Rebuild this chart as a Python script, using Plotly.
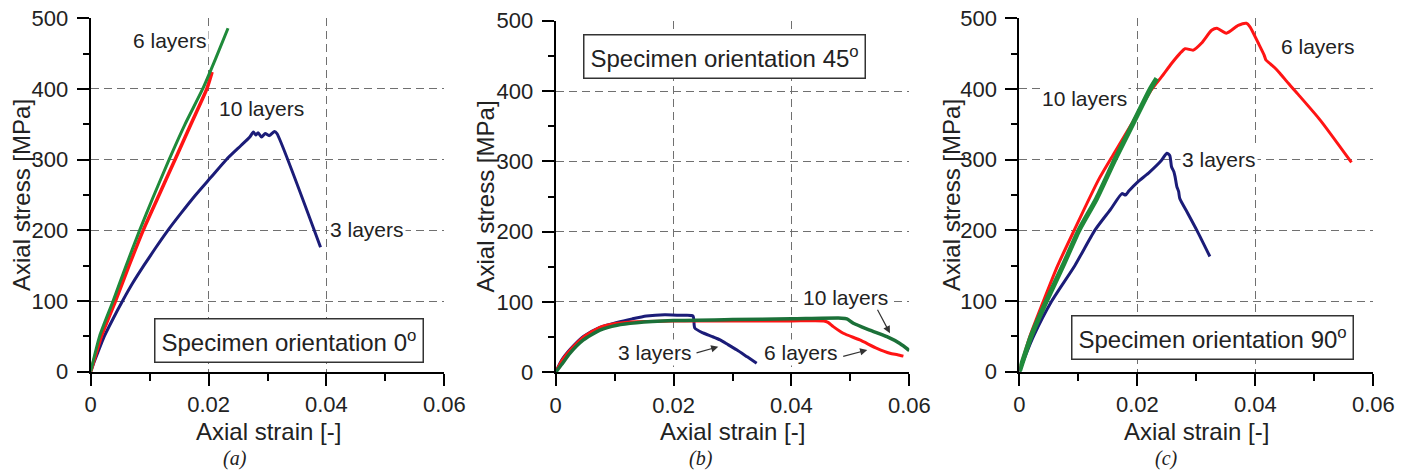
import plotly.graph_objects as go

# ---------------- data ----------------
x_ticks = [0, 0.02, 0.04, 0.06]
x_ticktext = ["0", "0.02", "0.04", "0.06"]
y_ticks = [0, 100, 200, 300, 400, 500]
y_ticktext = ["0", "100", "200", "300", "400", "500"]

# (a) orientation 0 deg
a_blue_strain = [0, 0.0005, 0.0012, 0.0023, 0.0038, 0.0054, 0.0071, 0.0090, 0.0110, 0.0131, 0.0154,
                 0.0178, 0.0204, 0.0230, 0.0255, 0.0270, 0.0276, 0.0280, 0.0284, 0.0290, 0.0296,
                 0.0303, 0.0312, 0.0316, 0.0390]
a_blue_stress = [0, 12, 27, 50, 75, 100, 125, 150, 175, 200, 225, 250, 275, 300, 320, 332, 339, 335,
                 338, 332, 337, 334, 340, 337, 176]
a_green_strain = [0, 0.0015, 0.0038, 0.0060, 0.0083, 0.0105, 0.0133, 0.0160, 0.0190, 0.0212, 0.0233]
a_green_stress = [0, 50, 100, 150, 200, 245, 300, 350, 400, 443, 486]
a_red_strain = [0, 0.0018, 0.0042, 0.0065, 0.0089, 0.0116, 0.0143, 0.0170, 0.0197, 0.0206]
a_red_stress = [0, 50, 100, 150, 200, 250, 300, 350, 400, 424]

# (b) orientation 45 deg
b_blue_strain = [0, 0.0010, 0.0025, 0.0047, 0.0075, 0.0104, 0.0130, 0.0154, 0.0185, 0.0216, 0.0233,
                 0.0236, 0.0250, 0.0265, 0.0279, 0.0293, 0.0307, 0.0325, 0.0341]
b_blue_stress = [0, 17, 33, 51, 64, 71, 76, 80, 82, 81, 80, 63, 56, 51, 46, 39, 32, 22, 13]
b_red_strain = [0, 0.0010, 0.0025, 0.0047, 0.0075, 0.0104, 0.0137, 0.0200, 0.0300, 0.0400, 0.0455,
                0.0462, 0.0471, 0.0488, 0.0516, 0.0545, 0.0567, 0.0580, 0.0590]
b_red_stress = [0, 16, 32, 50, 64, 69.7, 72, 73, 73, 73, 73, 71, 65, 55.5, 46, 34, 27, 25, 23]
b_green_strain = [0, 0.0010, 0.0024, 0.0047, 0.0075, 0.0104, 0.0137, 0.0200, 0.0300, 0.0400, 0.0485,
                  0.0494, 0.0505, 0.0533, 0.0562, 0.0584, 0.0600]
b_green_stress = [0, 11, 27, 46, 60, 67, 70.5, 73.5, 75, 76, 77, 76, 69.7, 60, 50.6, 41, 31]

# (c) orientation 90 deg
c_blue_strain = [0, 0.0010, 0.0024, 0.0055, 0.0094, 0.0128, 0.0155, 0.0174, 0.0180, 0.0186, 0.0200,
                 0.0219, 0.0240, 0.0250, 0.0255, 0.0258, 0.0262, 0.0264, 0.0267, 0.0270, 0.0272,
                 0.0285, 0.0301, 0.0323]
c_blue_stress = [0, 22, 50, 100, 150, 200, 230, 252, 250, 256, 268, 281, 298, 309, 306, 290, 283, 276,
                 262, 255, 245, 225, 200, 163]
c_red_strain = [0, 0.0018, 0.0041, 0.0065, 0.0093, 0.0134, 0.0160, 0.0190, 0.0224, 0.0241, 0.0258,
                0.0272, 0.0281, 0.0295, 0.0309, 0.0326, 0.0335, 0.0351, 0.0371, 0.0385, 0.0391,
                0.0405, 0.0415, 0.0418, 0.0425, 0.0433, 0.0442, 0.0456, 0.0473, 0.0510, 0.0563]
c_red_stress = [0, 50, 100, 150, 200, 271, 308, 350, 399, 417, 436, 450, 457, 455, 465, 483, 486, 479,
                490, 493, 488, 465, 448, 441, 436, 430, 422, 408, 392, 356, 296]
c_green_strain = [0, 0.0020, 0.0046, 0.0074, 0.0101, 0.0131, 0.0162, 0.0192, 0.0222, 0.0233]
c_green_stress = [0, 50, 100, 150, 200, 245, 300, 350, 400, 415]

# ---------------- styling ----------------
W, H = 1413, 473
BLUE = "#1b1c78"
RED = "#ff1414"
GREEN = "#1f8a3a"
GREEN_B = "#1b7038"
FONT = "Liberation Sans, Arial, sans-serif"
TXT = "#222222"

fig = go.Figure()

series = [
    ("x", "y", a_blue_strain, a_blue_stress, BLUE, 3),
    ("x", "y", a_red_strain, a_red_stress, RED, 3.5),
    ("x", "y", a_green_strain, a_green_stress, GREEN, 3),
    ("x2", "y2", b_blue_strain, b_blue_stress, BLUE, 3),
    ("x2", "y2", b_red_strain, b_red_stress, RED, 3),
    ("x2", "y2", b_green_strain, b_green_stress, GREEN_B, 3.5),
    ("x3", "y3", c_red_strain, c_red_stress, RED, 3),
    ("x3", "y3", c_blue_strain, c_blue_stress, BLUE, 3),
    ("x3", "y3", c_green_strain, c_green_stress, GREEN, 5),
]
for xa, ya, xs, ys, col, w in series:
    fig.add_trace(go.Scatter(x=xs, y=ys, xaxis=xa, yaxis=ya, mode="lines",
                             line=dict(color=col, width=w, shape="spline", smoothing=0.6),
                             showlegend=False, hoverinfo="skip"))

xdoms = [[90.7 / W, 444.3 / W], [555.7 / W, 909.3 / W], [1019.3 / W, 1373.3 / W]]
ydoms = [[(H - 371.7) / H, (H - 18.3) / H], [(H - 372.3) / H, (H - 20.7) / H],
         [(H - 371.7) / H, (H - 18.3) / H]]

axis_common = dict(showline=True, linecolor="black", linewidth=2, mirror=False,
                   ticks="outside", ticklen=12, tickwidth=2, tickcolor="black",
                   showgrid=True, gridcolor="#707070", gridwidth=1, griddash="8px,5px",
                   zeroline=False, automargin=False,
                   tickfont=dict(family=FONT, size=22, color=TXT))
layout = {}
for i in range(3):
    sx = "" if i == 0 else str(i + 1)
    layout["xaxis" + sx] = dict(axis_common, domain=xdoms[i], range=[0, 0.06],
                                tickmode="array", tickvals=x_ticks, ticktext=x_ticktext,
                                anchor="y" + sx, ticklabelstandoff=0,
                                minor=dict(dtick=0.01, ticklen=7, tickwidth=2, tickcolor="black",
                                           ticks="outside", showgrid=False))
    layout["yaxis" + sx] = dict(axis_common, domain=ydoms[i], range=[0, 500],
                                tickmode="array", tickvals=y_ticks, ticktext=y_ticktext,
                                anchor="x" + sx, ticklabelstandoff=4,
                                minor=dict(dtick=50, ticklen=6, tickwidth=2, tickcolor="black",
                                           ticks="outside", showgrid=False))

fig.update_layout(width=W, height=H, margin=dict(l=0, r=0, t=0, b=0, autoexpand=False),
                  paper_bgcolor="white", plot_bgcolor="white", **layout)

anns = []
lab_font = dict(family=FONT, size=21, color=TXT)
box_font = dict(family=FONT, size=24, color=TXT)


def label(xr, yr, x, y, text):
    anns.append(dict(xref=xr, yref=yr, x=x, y=y, text=text, showarrow=False,
                     font=lab_font, bgcolor="white", borderpad=1,
                     xanchor="center", yanchor="middle"))


def box(xr, yr, x, y, text):
    anns.append(dict(xref=xr, yref=yr, x=x, y=y, text=text, showarrow=False,
                     font=box_font, bgcolor="white", bordercolor="#333333", borderwidth=1.5,
                     borderpad=6, xanchor="center", yanchor="middle"))


def arrow(xr, yr, x0, y0, x1, y1):
    anns.append(dict(xref=xr, yref=yr, axref=xr, ayref=yr, x=x1, y=y1, ax=x0, ay=y0,
                     text="", showarrow=True, arrowhead=2, arrowsize=1.2, arrowwidth=1.2,
                     arrowcolor="#333333"))


# (a)
label("x", "y", 0.01346, 468, "6 layers")
label("x", "y", 0.0289, 373, "10 layers")
label("x", "y", 0.0468, 201, "3 layers")
box("x", "y", 0.03365, 44, "Specimen orientation 0<sup>o</sup>")
# (b)
box("x2", "y2", 0.02856, 449, "Specimen orientation 45<sup>o</sup>")
label("x2", "y2", 0.04923, 106, "10 layers")
label("x2", "y2", 0.01685, 28, "3 layers")
label("x2", "y2", 0.04154, 28, "6 layers")
arrow("x2", "y2", 0.02364, 27, 0.02759, 36.4)
arrow("x2", "y2", 0.04853, 22.2, 0.05287, 31.7)
arrow("x2", "y2", 0.05447, 91, 0.05672, 55.5)
# (c)
label("x3", "y3", 0.05068, 460, "6 layers")
label("x3", "y3", 0.01108, 387, "10 layers")
label("x3", "y3", 0.03381, 300, "3 layers")
box("x3", "y3", 0.03275, 49, "Specimen orientation 90<sup>o</sup>")

# axis titles
title_font = dict(family=FONT, size=24, color=TXT)
for xc, yc in [(21, 195), (485, 196.5), (951, 195)]:
    anns.append(dict(xref="paper", yref="paper", x=xc / W, y=(H - yc) / H,
                     text="Axial stress [MPa]", textangle=-90, showarrow=False,
                     font=title_font, xanchor="center", yanchor="middle"))
for xc in [268.5, 732.5, 1196.5]:
    anns.append(dict(xref="paper", yref="paper", x=xc / W, y=(H - 431) / H,
                     text="Axial strain [-]", showarrow=False,
                     font=title_font, xanchor="center", yanchor="middle"))
# captions
for xc, t in [(235, "(a)"), (701, "(b)"), (1166, "(c)")]:
    anns.append(dict(xref="paper", yref="paper", x=xc / W, y=(H - 458) / H,
                     text="<i>" + t + "</i>", showarrow=False,
                     font=dict(family="Liberation Serif, Times New Roman, serif", size=20, color=TXT),
                     xanchor="center", yanchor="middle"))

fig.update_layout(annotations=anns)
fig.write_html("out.html")
